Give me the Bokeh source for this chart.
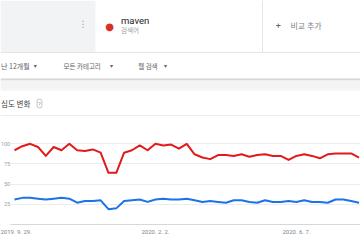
from bokeh.plotting import figure
from bokeh.models import Range1d, FixedTicker, Label, BoxAnnotation, Span
from bokeh.embed import file_html
from bokeh.resources import INLINE

# ---- data (weekly, from 2019-09-29) ----
weeks = list(range(45))
maven = [92, 97, 100, 96, 85, 96, 92, 100, 92, 91, 93, 89, 64, 64, 89, 92, 98, 92,
         100, 98, 99, 94, 100, 87, 83, 81, 86, 86, 85, 87, 84, 86, 87, 85, 85, 80,
         85, 87, 85, 82, 87, 88, 88, 88, 83]
other = [31, 33, 33, 32, 31, 32, 33, 32, 27, 29, 29, 30, 19, 20, 29, 30, 31, 28,
         31, 32, 31, 31, 32, 30, 28, 29, 28, 27, 30, 30, 28, 27, 30, 28, 28, 29,
         28, 30, 28, 28, 27, 31, 31, 29, 27]
tick_weeks = [0, 18, 36]
tick_labels = ["2019. 9. 29.", "2020. 2. 2.", "2020. 6. 7."]
y_ticks = [25, 50, 75, 100]

# ---- layout constants ----
W, H = 360, 240
FB = 14            # bottom border (frame bottom at 226 px)
BASE_PX = 224      # pixel row of value 0
PX_WEEK = 7.83
PX_UNIT = 0.807
X0_PX = 14         # pixel column of first week
x_start = -X0_PX / PX_WEEK
y_start = -(H - FB - BASE_PX) / PX_UNIT

p = figure(width=W, height=H, output_backend="svg", toolbar_location=None,
           x_range=Range1d(x_start, x_start + W / PX_WEEK),
           y_range=Range1d(y_start, y_start + (H - FB) / PX_UNIT),
           min_border_left=0, min_border_right=0, min_border_top=0,
           min_border_bottom=FB)
p.outline_line_color = None
p.background_fill_color = "white"
p.border_fill_color = "white"

FONT = "Roboto"
CJK = "Noto Sans CJK KR"
SYM = "DejaVu Sans"

# axes
p.xaxis.ticker = FixedTicker(ticks=tick_weeks)
p.xaxis.major_label_overrides = {t: l for t, l in zip(tick_weeks, tick_labels)}
p.xaxis.axis_line_color = None
p.xaxis.major_tick_line_color = None
p.xaxis.minor_tick_line_color = None
p.xaxis.major_tick_out = 0
p.xaxis.major_tick_in = 0
p.xaxis.major_label_standoff = 1
p.xaxis.major_label_text_font_size = "6px"
p.xaxis.major_label_text_color = "#80868b"
p.xaxis.major_label_text_font = FONT

p.yaxis.ticker = FixedTicker(ticks=y_ticks)
p.yaxis.fixed_location = x_start + 10.7 / PX_WEEK
p.yaxis.axis_line_color = None
p.yaxis.major_tick_line_color = None
p.yaxis.minor_tick_line_color = None
p.yaxis.major_tick_out = 0
p.yaxis.major_tick_in = 0
p.yaxis.major_label_standoff = 1
p.yaxis.major_label_text_font_size = "5.5px"
p.yaxis.major_label_text_color = "#9aa0a6"
p.yaxis.major_label_text_font = FONT

p.xgrid.visible = False
p.ygrid.ticker = FixedTicker(ticks=y_ticks)
p.ygrid.grid_line_color = "#ececec"

p.add_layout(Span(location=0, dimension="width", line_color="#d5d7da",
                  line_width=1, level="underlay"))

# ---- page chrome (screen units) ----
def sx(px):
    return px

def sy(py):
    return (H - FB) - py

def box(x0, x1, y0, y1, color):
    p.add_layout(BoxAnnotation(left=sx(x0), right=sx(x1), top=sy(y0), bottom=sy(y1),
                               left_units="screen", right_units="screen",
                               top_units="screen", bottom_units="screen",
                               fill_color=color, fill_alpha=1, line_color=None,
                               level="underlay"))

box(0, 9.8, 130, 226, "white")      # gridlines start right of the tick labels
box(0, 95, 0, 52, "#f1f3f4")
box(0, 360, 51.5, 52.5, "#e6e6e6")
box(261.5, 262.5, 0, 52, "#e6e6e6")
box(0, 360, 78, 80, "#d6d6d6")
box(0, 360, 80, 90, "#f4f4f4")
box(0, 360, 114.5, 115.5, "#ececec")

# series
p.line(weeks, other, line_color="#1a73e8", line_width=2, line_join="round")
p.line(weeks, maven, line_color="#e01b1b", line_width=2, line_join="round")

def label(text, x, y, size, color, font=FONT, align="left", **kw):
    p.add_layout(Label(x=sx(x), y=sy(y), x_units="screen", y_units="screen",
                       text=text, text_font=font, text_font_size=size,
                       text_color=color, text_align=align,
                       text_baseline="middle", **kw))

label("⋮", 82.5, 23.5, "9px", "#9aa0a6", font=SYM, align="center")
label("●", 109, 25.5, "10px", "#d93025", font=SYM, align="center")
label("maven", 120.5, 19.5, "9.5px", "#202124")
label("검색어", 120.5, 29, "6.5px", "#9aa0a6", font=CJK)
label("+", 277.7, 25, "9px", "#5f6368", align="center")
label("비교 추가", 290, 25, "8px", "#80868b", font=CJK)

label("난 12개월", 0.5, 65, "7px", "#5f6368", font=CJK)
label("▾", 34.7, 65, "6px", "#5f6368", font=SYM, align="center")
label("모든 카테고리", 63, 65, "6.5px", "#5f6368", font=CJK)
label("▾", 111, 65, "6px", "#5f6368", font=SYM, align="center")
label("웹 검색", 137.7, 65, "6.5px", "#5f6368", font=CJK)
label("▾", 165, 65, "6px", "#5f6368", font=SYM, align="center")

label("심도 변화", 0.5, 103, "7.5px", "#3c4043", font=CJK)
label("?", 39, 103, "6px", "#9aa0a6", align="center",
      border_line_color="#b0b4b8", border_line_width=0.8, border_radius=4,
      padding=1)

open("out.html", "w").write(file_html(p, INLINE))
